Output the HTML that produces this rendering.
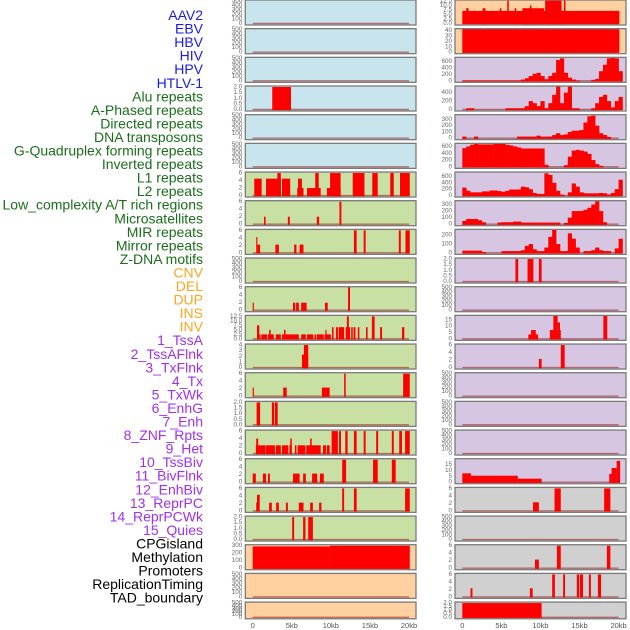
<!DOCTYPE html>
<html><head><meta charset="utf-8"><style>
html,body{margin:0;padding:0;background:#fff;width:630px;height:630px;overflow:hidden}
svg text{font-family:"Liberation Sans",sans-serif}
</style></head><body>
<svg id="chart" width="630" height="630" viewBox="0 0 630 630" xmlns="http://www.w3.org/2000/svg"></svg>
<script>
const labels = ["AAV2","EBV","HBV","HIV","HPV","HTLV-1","Alu repeats","A-Phased repeats","Directed repeats","DNA transposons","G-Quadruplex forming repeats","Inverted repeats","L1 repeats","L2 repeats","Low_complexity A/T rich regions","Microsatellites","MIR repeats","Mirror repeats","Z-DNA motifs","CNV","DEL","DUP","INS","INV","1_TssA","2_TssAFlnk","3_TxFlnk","4_Tx","5_TxWk","6_EnhG","7_Enh","8_ZNF_Rpts","9_Het","10_TssBiv","11_BivFlnk","12_EnhBiv","13_ReprPC","14_ReprPCWk","15_Quies","CPGisland","Methylation","Promoters","ReplicationTiming","TAD_boundary"];
const labelGroups = [6,13,5,15,5];
const groupColors = ["#1a1aee","#1a6e1a","#ffa520","#a030f0","#000000"];
const xTicks = [0,5,10,15,20];
const xTickLabels = ["0","5kb","10kb","15kb","20kb"];

const leftBg = ["#c8e4ec","#c8e4ec","#c8e4ec","#c8e4ec","#c8e4ec","#c8e4ec","#c8e0a4","#c8e0a4","#c8e0a4","#c8e0a4","#c8e0a4","#c8e0a4","#c8e0a4","#c8e0a4","#c8e0a4","#c8e0a4","#c8e0a4","#c8e0a4","#c8e0a4","#ffd0a0","#ffd0a0","#ffd0a0"];
const leftTicks = [
 ["0","100","200","300","400","500"],["0","100","200","300","400","500"],["0","100","200","300","400","500"],
 ["0.0","0.5","1.0","1.5","2.0"],["0","100","200","300","400","500"],["0","100","200","300","400","500"],
 ["0","2","4","6"],["0","2","4","6"],["0","2","4","6"],["0","100","200","300","400","500"],["0","2","4","6"],
 ["0.0","2.5","5.0","7.5","10.0","12.5"],["0","1","2","3","4"],["0","2","4","6"],["0.0","0.5","1.0","1.5","2.0"],
 ["0","2","4","6"],["0","2","4","6"],["0","2","4","6"],["0.0","0.5","1.0","1.5","2.0"],
 ["0","100","200","300"],["0","100","200","300","400","500"],["0","100","200","300","400","500"]];
const leftMax = [500,500,500,2,500,500,6,6,6,500,6,12.5,4,6,2,6,6,6,2,330,500,500];
const leftSegs = [
 [],[],[],
 [[2.5,4.9,2]],
 [],[],
 [[0.2,1.15,4.5],[1.7,3.6,4.5],[3.15,3.6,6],[3.75,4.8,4.5],[5.7,6.5,2],[5.8,6.3,4.5],[6.95,8.7,2],[8.0,8.45,6],[9.5,11.25,2],[9.9,11.25,6],[12.8,14.3,6],[15.3,16.0,6],[17.6,18.05,6],[18.85,20.1,6]],
 [[1.45,1.65,2],[4.5,4.75,2],[8.2,8.5,2],[11.1,11.35,6]],
 [[0.45,0.6,4.2],[0.6,0.95,2.2],[2.9,3.35,2.2],[5.3,5.6,2.2],[6.0,6.5,2.2],[12.95,13.3,6],[14.2,14.45,6],[18.7,18.95,6],[19.55,20.1,6]],
 [],
 [[0,0.15,2],[5.15,5.45,2],[5.55,5.9,2],[6.2,6.9,2],[9.25,9.6,2],[12.2,12.45,6.5]],
 [[0.55,0.85,7.5],[0.85,1.0,2.5],[1.1,1.85,2.5],[1.95,2.7,2.5],[2.1,2.3,5],[2.95,3.6,2.5],[3.75,5.9,2.5],[4.0,4.2,5],[6.2,6.8,2.5],[6.95,7.75,2.5],[7.9,8.1,2.5],[8.2,9.1,2.5],[9.2,10.0,2.5],[9.3,9.45,5],[10.15,10.35,6.5],[10.65,10.9,6.5],[11.0,11.7,6.5],[11.9,12.45,6.5],[12.05,12.3,12.5],[12.6,12.8,6.5],[12.9,13.15,6.5],[13.45,13.65,6.5],[14.5,14.7,6.5],[15.25,15.6,12.5],[16.3,16.55,6.5],[19.1,19.4,6.5]],
 [[6.3,7.1,2.3],[6.55,7.1,4]],
 [[0,0.15,2.3],[3.9,4.35,2.3],[8.85,9.85,2.3],[11.7,11.9,6],[19.25,20.1,6]],
 [[0.5,0.95,2],[2.45,2.75,2],[2.85,3.2,2]],
 [[0.4,1.6,2.2],[0.45,0.7,4],[1.65,2.85,2.2],[2.95,3.6,2.2],[3.75,4.55,2.2],[4.7,5.0,2.2],[4.8,5.0,4],[5.4,5.6,2.2],[5.75,6.75,2.2],[6.85,8.7,2.2],[7.35,7.55,4],[9.0,9.4,2.2],[9.5,9.85,2.2],[10.1,10.9,6],[11.05,11.3,6],[11.85,12.15,6],[12.95,13.3,6],[14.2,14.45,6],[15.8,16.05,6],[17.8,18.05,6],[18.75,19.1,6],[19.5,20.1,6]],
 [[0,0.4,2.3],[1.3,1.7,2.3],[1.95,2.2,2.3],[5.15,6.0,2.3],[6.45,6.8,2.3],[7.6,8.25,2.3],[8.6,9.1,2.3],[11.45,11.95,6],[15.4,16.0,6],[17.8,18.3,6]],
 [[0.45,0.6,2.2],[0.55,0.9,4.3],[2.1,2.45,2.2],[3.0,3.35,2.2],[4.25,4.5,2.2],[5.9,6.5,2.2],[7.35,7.7,2.2],[8.5,8.8,2.2],[11.45,11.7,6],[12.95,13.3,6],[19.5,20.1,6]],
 [[5.05,5.3,2],[6.45,6.75,2],[7.1,7.7,2]],
 [[0,9.9,320],[9.9,20.1,330]],
 [],[]];

const rightBg = ["#ffd0a0","#ffd0a0","#d6c6e2","#d6c6e2","#d6c6e2","#d6c6e2","#d6c6e2","#d6c6e2","#d6c6e2","#d6c6e2","#d6c6e2","#d6c6e2","#d6c6e2","#d6c6e2","#d6c6e2","#d6c6e2","#d6c6e2","#d0d0d0","#d0d0d0","#d0d0d0","#d0d0d0","#d0d0d0"];
const rightTicks = [
 ["0.0","2.5","5.0","7.5","10.0","12.5"],["0","10","20","30","40"],["0","200","400","600"],["0","200","400"],
 ["0","100","200","300"],["0","200","400","600"],["0","200","400","600"],["0","100","200","300"],["0","100","200"],
 ["0.0","0.5","1.0","1.5","2.0"],["0","100","200","300","400","500"],["0","5","10","15"],["0","2","4","6"],
 ["0","100","200","300","400","500"],["0","100","200","300","400","500"],["0","100","200","300","400","500"],
 ["0","5","10","15"],["0","2","4","6"],["0","100","200","300","400","500"],["0","2","4","6"],["0","2","4","6"],["0.0","0.5","1.0","1.5","2.0"]];
const rightTickTop = [12.5,40,600,400,300,600,600,300,200,2,500,15,6,500,500,500,15,6,500,6,6,2];
const rightMax = [12.5,42,700,535,360,662,710,343,254,2,500,17.8,6,500,500,500,19,6,500,6,6,2];
const binsR2 = [10,10,10,10,10,10,10,10,10,10,10,10,10,10,10,40,80,150,220,250,150,50,150,250,650,700,250,100,40,10,0,0,0,30,60,300,500,700,750,700,300];
const binsR3 = [0,30,30,0,0,0,0,0,0,0,0,30,30,30,30,30,80,200,150,80,200,30,150,350,600,150,400,600,30,30,0,0,0,30,150,300,350,200,50,200,300];
const binsR4 = [25,0,0,25,0,0,0,0,0,0,0,0,0,0,25,25,25,25,25,40,25,25,25,50,80,50,60,100,120,120,130,250,350,360,200,80,50,20,0,0,0];
const binsR5 = [550,600,650,680,660,660,660,660,690,700,690,650,630,600,570,540,540,540,540,540,540,60,0,0,0,0,50,300,480,500,480,450,380,200,80,30,0,0,0,0,0];
const binsR6 = [250,150,100,100,100,130,130,160,160,140,120,150,190,190,190,280,260,200,80,50,50,700,650,400,150,30,0,100,380,280,100,70,70,70,70,80,70,30,80,200,500];
const binsR7 = [50,80,80,80,60,30,0,0,0,25,30,30,30,40,40,25,25,25,25,25,25,25,25,25,25,0,20,100,200,200,200,220,250,300,350,200,30,0,0,0,0];
const binsR8 = [25,25,25,25,25,10,0,0,0,0,20,20,20,20,20,30,80,100,40,20,20,60,180,270,100,20,20,220,160,60,0,20,20,30,60,30,20,20,0,50,160];
const rightBins = [null,null,binsR2,binsR3,binsR4,binsR5,binsR6,binsR7,binsR8];
const rightSegs = [
 [[0,20.1,7],[0.5,0.8,8.5],[2.6,2.95,8.5],[4.8,5.0,8.5],[5.75,5.95,13],[6.7,6.9,8.5],[7.7,10.45,8.5],[8.65,8.85,10],[10.6,12.7,13],[13.0,13.2,13]],
 [[0,20.1,45]],
 [],[],[],[],[],[],[],
 [[6.8,7.15,2],[8.35,9.1,2],[9.8,10.15,2]],
 [],
 [[8.45,9.7,3.5],[8.8,9.4,7],[11.2,12.6,7],[11.65,12.2,19],[12.2,12.5,13],[18.05,18.55,19]],
 [[9.8,10.15,2.3],[12.6,13.1,6]],
 [],[],[],
 [[0,1.1,7.5],[1.1,7.1,5.5],[7.1,10.15,3],[18.8,19.1,7],[19.1,19.75,12],[19.75,20.2,18]],
 [[9.05,9.8,2.3],[11.8,12.6,6],[18.15,18.95,6]],
 [],
 [[9.3,9.8,2.3],[12.1,12.6,6],[18.5,18.95,6]],
 [[1.05,1.3,2.3],[8.65,9.0,2.3],[11.5,11.85,6],[12.9,13.15,6],[14.65,14.95,6],[15.05,15.45,6],[16.2,16.45,6],[17.35,17.75,6]],
 [[0,10.15,2]]];

const NS = "http://www.w3.org/2000/svg";
const svg = document.getElementById("chart");
function mk(tag, attrs, parent){ const e=document.createElementNS(NS,tag); for(const k in attrs) e.setAttribute(k,attrs[k]); (parent||svg).appendChild(e); return e; }

let li=0;
labelGroups.forEach((n,g)=>{ for(let k=0;k<n;k++){ const t=mk("text",{x:203,y:15+li*13.55,"text-anchor":"end","dominant-baseline":"central","font-size":"14",fill:groupColors[g]}); t.textContent=labels[li];
 
 
 li++; } });

const cols = [
 {px0:245.3, px1:416, x0:252.7, bg:leftBg, ticks:leftTicks, tickTop:leftMax, max:leftMax, segs:leftSegs, bins:[], name:"left"},
 {px0:455, px1:626, x0:462.3, bg:rightBg, ticks:rightTicks, tickTop:rightTickTop, max:rightMax, segs:rightSegs, bins:rightBins, name:"right"}];
const kbPx = 7.815;
cols.forEach(c=>{
 const xs = kb => c.x0 + kb*kbPx;
 for(let r=0;r<22;r++){
  const top = r*28.67, h = r===21?16.7:25, bot = top+h;
  const ys = v => bot-1.5-(h-2.5)*v/c.max[r];
  const g = mk("g",{});
  
  
  const clipId="clip"+c.name+r;
  const cp=mk("clipPath",{id:clipId},g); mk("rect",{x:c.px0,y:top,width:c.px1-c.px0,height:h},cp);
  mk("rect",{x:c.px0,y:top,width:c.px1-c.px0,height:h,fill:c.bg[r]},g);
  const pg = mk("g",{"clip-path":"url(#"+clipId+")"},g);
  mk("line",{x1:xs(0),x2:xs(20),y1:ys(0),y2:ys(0),stroke:"rgba(150,20,20,0.55)","stroke-width":1.4},pg);
  const bins = c.bins[r];
  if(bins){ bins.forEach((v,i)=>{ if(v<=0) return; const b=mk("rect",{x:xs(i*0.5),y:ys(v),width:0.5*kbPx+0.3,height:ys(0)-ys(v)+0.7,fill:"#ff0000"},pg);
   
    }); }
  c.segs[r].forEach(s=>{ const b=mk("rect",{x:xs(s[0]),y:ys(s[2]),width:Math.max(1,(s[1]-s[0])*kbPx),height:ys(0)-ys(s[2])+0.7,fill:"#ff0000"},pg);
   
    });
  mk("rect",{x:c.px0,y:top,width:c.px1-c.px0,height:h,fill:"none",stroke:"#7a7a7a","stroke-width":1.3},g);
  const tk=c.ticks[r], n=tk.length, tt=c.tickTop[r];
  tk.forEach((lab,i)=>{ const v=tt*i/(n-1); const t=mk("text",{x:c.px0-3,y:ys(v),"text-anchor":"end","dominant-baseline":"central","font-size":"6.3",fill:"#666"},g); t.textContent=lab;
   
    });
 }
 xTicks.forEach((k,i)=>{ const t=mk("text",{x:xs(k),y:628,"text-anchor":"middle","font-size":"7.5",fill:"#555"}); t.textContent=xTickLabels[i];
  
   });
});
</script>
</body></html>
